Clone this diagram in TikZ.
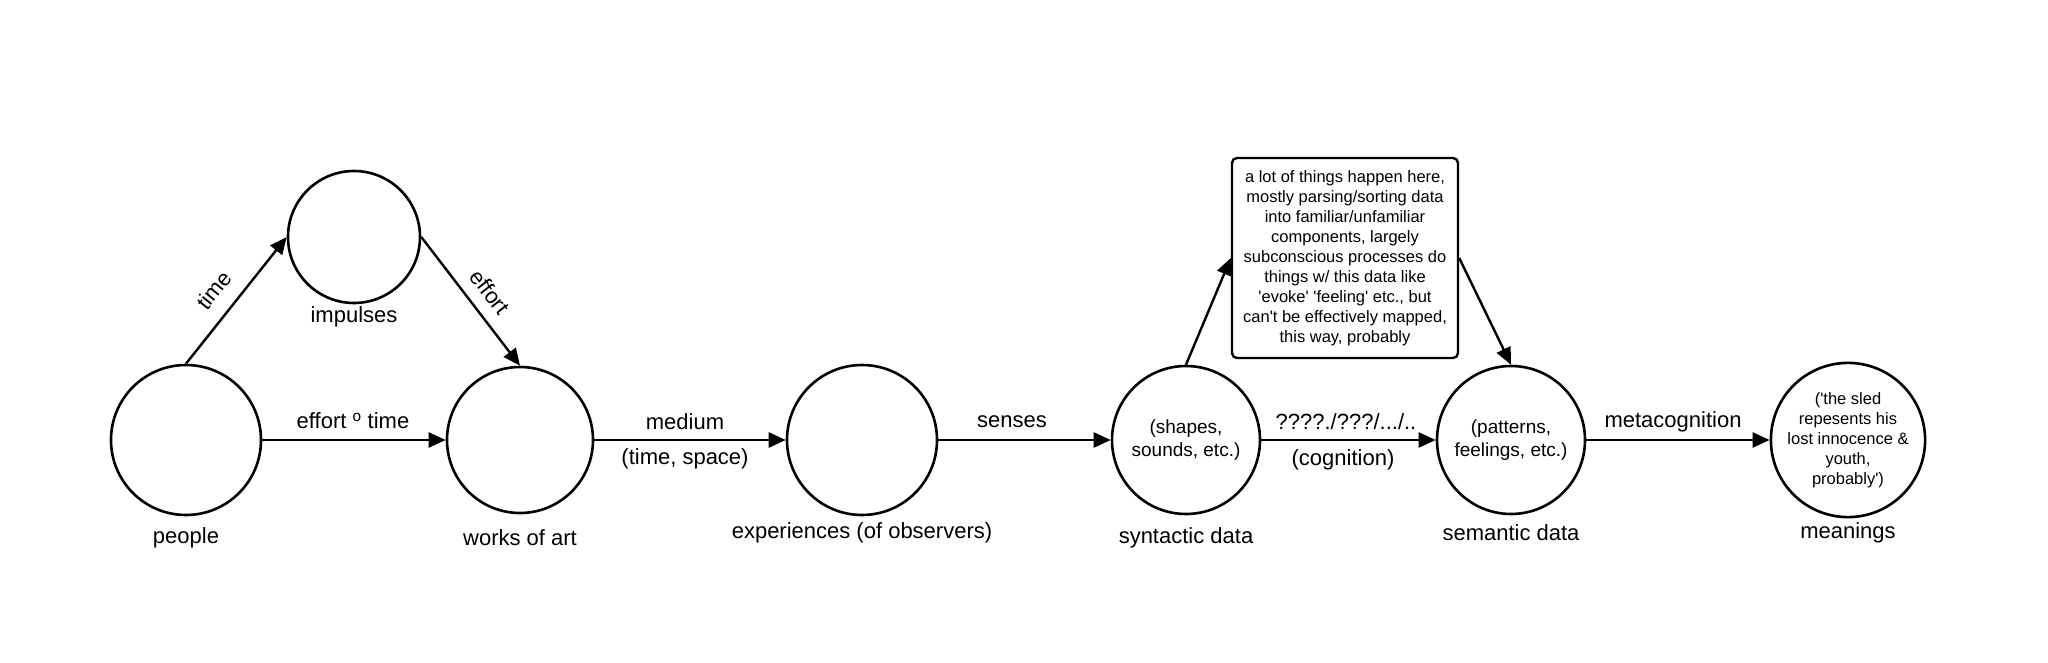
\documentclass[tikz,border=0pt]{standalone}
\usepackage{fontspec}
\setmainfont{Liberation Sans}
\usetikzlibrary{arrows.meta}
\newcommand{\sq}{\textquotesingle}
\begin{document}
\begin{tikzpicture}[x=1pt,y=-1pt,
  circ/.style={circle,draw,line width=2.6pt,inner sep=0pt,minimum size=#1,align=center,font=\fontsize{19}{23}\selectfont},
  lbl/.style={font=\fontsize{22}{26}\selectfont,inner sep=0pt},
  arr/.style={line width=2.4pt,-{Triangle[length=17pt,width=15pt]}},
  notebox/.style={draw,line width=2.4pt,rounded corners=5pt,align=center,font=\fontsize{16.5}{20}\selectfont,minimum width=226pt,minimum height=200pt,inner sep=0pt}]
\useasboundingbox (0,0) rectangle (2048,663);
\fill[white] (0,0) rectangle (2048,663);
\node[circ=150pt] (people) at (186,440) {};
\node[circ=132pt] (impulses) at (354,237) {};
\node[circ=146pt] (works) at (520,440) {};
\node[circ=150pt] (exp) at (862,440) {};
\node[circ=148pt] (syn) at (1186,440) {(shapes,\\sounds, etc.)};
\node[circ=148pt] (sem) at (1511,440) {(patterns,\\feelings, etc.)};
\node[circ=150pt,font=\fontsize{16.5}{20}\selectfont] (mean) at (1848,440) {(\sq the sled\\repesents his\\lost innocence \&\\youth,\\probably\sq)};
\node[notebox] (box) at (1345,258) {a lot of things happen here,\\mostly parsing/sorting data\\into familiar/unfamiliar\\components, largely\\subconscious processes do\\things w/ this data like\\\sq evoke\sq{} \sq feeling\sq{} etc., but\\can\sq t be effectively mapped,\\this way, probably};
% node labels
\node[lbl] (lpeople) at (186,538) {people};
\node[lbl] (limp) at (354,317) {impulses};
\node[lbl] (lworks) at (520,538) {works of art};
\node[lbl] (lexp) at (862,533) {experiences (of observers)};
\node[lbl] (lsyn) at (1186,538) {syntactic data};
\node[lbl] (lsem) at (1511,533) {semantic data};
\node[lbl] (lmean) at (1848,533) {meanings};
% connectors
\draw[arr] (people.north) -- (impulses.west);
\draw[arr] (impulses.east) -- (works.north);
\draw[arr] (people.east) -- (works.west);
\draw[arr] (works.east) -- (exp.west);
\draw[arr] (exp.east) -- (syn.west);
\draw[arr] (syn.north) -- (box.west);
\draw[arr] (box.east) -- (sem.north);
\draw[arr] (syn.east) -- (sem.west);
\draw[arr] (sem.east) -- (mean.west);
% edge labels
\node[lbl,rotate=51] (ltime) at (214,290) {time};
\node[lbl,rotate=-52] (leffort) at (490,292) {effort};
\node[lbl] (let) at (353,421) {effort \textsuperscript{o} time};
\node[lbl] (lmed) at (685,422) {medium};
\node[lbl] (lts) at (685,459) {(time, space)};
\node[lbl] (lsen) at (1012,422) {senses};
\node[lbl] (lq) at (1346,422) {????./???/.../..};
\node[lbl] (lcog) at (1343,460) {(cognition)};
\node[lbl] (lmeta) at (1673,422) {metacognition};
\end{tikzpicture}
\end{document}
